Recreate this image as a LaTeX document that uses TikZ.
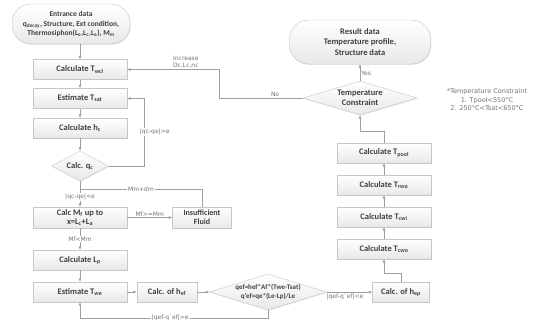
\documentclass[tikz,border=0pt]{standalone}
\usepackage{fontspec}
\setmainfont{Carlito}
\newfontfamily\lblfont{DejaVu Sans}
\usetikzlibrary{shapes.geometric,shadows,arrows.meta}

\begin{document}
\begin{tikzpicture}[x=1pt,y=-1pt]
\tikzset{
    stepbox/.style={draw=gray!45, top color=white, bottom color=gray!18,
        minimum width=94, minimum height=20, inner sep=1pt, align=center,
        font=\bfseries\fontsize{8.5}{9.5}\selectfont, text=black!75,
        drop shadow={opacity=0.2, shadow xshift=0.8pt, shadow yshift=-0.8pt}},
    termbox/.style={stepbox, rounded corners=19pt},
    testbox/.style={stepbox, diamond, inner sep=0pt},
    link/.style={draw=gray!75, line width=0.5pt},
    arr/.style={link, -{Latex[length=3.5pt,width=3pt]}},
    lbl/.style={font=\lblfont\fontsize{6}{7.5}\selectfont, text=black!55, inner sep=1pt},
    lblw/.style={lbl, fill=white}}
\def\lo#1{\textsubscript{#1}}

\useasboundingbox (0,0) rectangle (540,320);

% left column
\node[termbox, minimum width=118, minimum height=40, font=\bfseries\fontsize{7.5}{9.5}\selectfont] (entr) at (71,24)
    {Entrance data\\q\lo{decay}, Structure, Ext condition,\\Thermosiphon(L\lo{e},L\lo{c},L\lo{a}), M\lo{m}};
\node[stepbox] (wcl) at (80,69.5) {Calculate T\lo{wcl}};
\node[stepbox] (tsat) at (80,98.5) {Estimate T\lo{sat}};
\node[stepbox] (hc) at (80,128) {Calculate h\lo{c}};
\node[testbox, aspect=1.9, minimum width=57, minimum height=30] (qc) at (80,166) {Calc. q\lo{c}};
\node[stepbox, minimum height=21, font=\bfseries\fontsize{8.5}{9}\selectfont] (mf) at (80,217.5) {Calc M\lo{f} up to\\x=L\lo{c}+L\lo{a}};
\node[stepbox, minimum width=59, minimum height=21, font=\bfseries\fontsize{8}{9}\selectfont] (insuf) at (202,217.5) {Insufficient\\Fluid};
\node[stepbox] (lp) at (80,260) {Calculate L\lo{p}};
\node[stepbox] (twe) at (80,292) {Estimate T\lo{we}};

% bottom row
\node[stepbox, minimum width=60] (hef) at (167,292) {Calc. of h\lo{ef}};
\node[testbox, aspect=3.25, minimum width=117, minimum height=36, font=\bfseries\fontsize{7}{8.5}\selectfont] (qef) at (268,292)
    {qef=hef*Af*(Twe-Tsat)\\q`ef=qe*(Le-Lp)/Le};
\node[stepbox, minimum width=57] (hep) at (401,292) {Calc. of h\lo{ep}};

% right column
\node[stepbox] (tcwo) at (384,249) {Calculate T\lo{cwo}};
\node[stepbox] (tcwi) at (384,217) {Calculate T\lo{cwi}};
\node[stepbox] (trwo) at (384,185) {Calculate T\lo{rwo}};
\node[stepbox] (tpool) at (384,153) {Calculate T\lo{pool}};
\node[testbox, aspect=3.4, minimum width=114, minimum height=34] (tc) at (360,98) {Temperature\\Constraint};
\node[termbox, minimum width=141, minimum height=44, font=\bfseries\fontsize{8.5}{10.5}\selectfont] (res) at (360,42)
    {Result data\\Temperature profile,\\Structure data};
\node[lbl, align=center, font=\lblfont\fontsize{6.5}{8.5}\selectfont] (note) at (487,100)
    {*Temperature Constraint\\1. Tpool<550°C\\2. 250°C<Tsat<650°C};

\coordinate (mmj) at (80,189);

\draw[arr] (entr.south -| wcl.north) -- (wcl.north);
\draw[arr] (wcl) -- (tsat);
\draw[arr] (tsat) -- (hc);
\draw[arr] (hc) -- (qc);
\draw[arr] (qc.east) -- ++(36,0) |- node[lblw, pos=0.25, xshift=10]{|qc-qe|>e} (tsat.east);
\draw[arr] (qc) -- node[lblw, pos=0.6]{|qc-qe|<e} (mf);
\draw[arr] (mf) -- node[lbl, above]{Mf>=Mm} (insuf);
\draw[link] (insuf.north) |- node[lblw, pos=0.75]{Mm+dm} (mmj);
\draw[arr] (mf) -- node[lblw]{Mf<Mm} (lp);
\draw[arr] (lp) -- (twe);
\draw[arr] (twe) -- (hef);
\draw[arr] (hef) -- (qef);
\draw[arr] (qef) -- node[lbl, below, pos=0.4]{|qef-q`ef|<e} (hep);
\draw[arr] (qef.south) -- ++(0,8) -| node[lblw, pos=0.26]{|qef-q`ef|>e} (twe.south);
\draw[arr] (hep.north) -- ++(0,-9) -| (tcwo.south);
\draw[arr] (tcwo) -- (tcwi);
\draw[arr] (tcwi) -- (trwo);
\draw[arr] (trwo) -- (tpool);
\draw[arr] (tpool.north) -- ++(0,-12) -| (tc.south);
\draw[arr] (tc) -- node[lbl, right, pos=0.45]{Yes} (res);
\draw[arr] (tc.west) -- node[lbl, above, pos=0.33]{No} ++(-84,0)
    |- node[lbl, above, align=center, pos=0.68]{Increase\\Dc,Lc,nc} (wcl.east);

\end{tikzpicture}
\end{document}
